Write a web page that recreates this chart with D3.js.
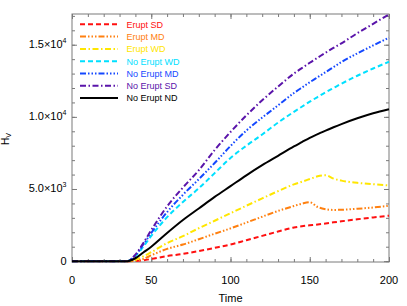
<!DOCTYPE html>
<html>
<head>
<meta charset="utf-8">
<script src="https://cdn.jsdelivr.net/npm/d3@7"></script>
<style>
  body { margin: 0; background: #fff; }
  svg { display: block; font-family: "Liberation Sans", Arial, sans-serif; }
</style>
</head>
<body>
<div id="chart"></div>
<script>
// chart size
var svgWidth = 407;
var svgHeight = 306;

// plot box (pixel edges)
var margin = { top: 14, right: 18, bottom: 44, left: 72 };
var width = svgWidth - margin.left - margin.right;
var height = svgHeight - margin.top - margin.bottom;

// data
var times = [0, 10, 20, 30, 35, 40, 45, 50, 60, 70, 80, 90, 100, 110, 120, 130, 140, 145, 150, 155, 160, 165, 170, 180, 190, 200];

var eruptSD   = [0, 0, 0, 0, 0, 10, 60, 150, 350, 500, 700, 920, 1150, 1450, 1750, 2050, 2330, 2420, 2480, 2540, 2610, 2690, 2760, 2900, 3030, 3150];
var eruptMD   = [0, 0, 0, 0, 0, 40, 150, 400, 850, 1150, 1520, 1900, 2270, 2670, 3080, 3480, 3820, 3980, 4080, 3750, 3600, 3550, 3560, 3630, 3720, 3840];
var eruptWD   = [0, 0, 0, 0, 0, 100, 330, 620, 1250, 1730, 2280, 2800, 3320, 3840, 4350, 4850, 5320, 5500, 5690, 5880, 5950, 5720, 5580, 5430, 5330, 5250];
var noEruptWD = [0, 0, 0, 0, 0, 350, 1000, 1750, 3050, 4100, 5050, 6100, 7150, 8000, 8780, 9600, 10350, 10700, 11050, 11380, 11700, 12000, 12300, 12850, 13350, 13820];
var noEruptMD = [0, 0, 0, 0, 0, 400, 1150, 1950, 3400, 4600, 5680, 6800, 7980, 9050, 9950, 10800, 11650, 12030, 12400, 12750, 13100, 13450, 13800, 14400, 14950, 15490];
var noEruptSD = [0, 0, 0, 0, 0, 450, 1250, 2150, 3800, 5100, 6300, 7700, 8950, 10100, 11150, 12100, 13000, 13380, 13750, 14100, 14450, 14780, 15100, 15800, 16450, 17100];
var noEruptND = [0, 0, 0, 0, 0, 200, 600, 1000, 1950, 2850, 3650, 4450, 5200, 5950, 6650, 7300, 7950, 8250, 8550, 8800, 9050, 9280, 9500, 9900, 10250, 10530];

var seriesNames = ["Erupt SD", "Erupt MD", "Erupt WD", "No Erupt WD", "No Erupt MD", "No Erupt SD", "No Erupt ND"];
var seriesValues = [eruptSD, eruptMD, eruptWD, noEruptWD, noEruptMD, noEruptSD, noEruptND];
var seriesColors = ["#ff1010", "#ff8010", "#ffe600", "#00e0ff", "#1448ff", "#5a14aa", "#000000"];
var seriesDashes = ["5,3", "6,2,1.5,2,1.5,2,1.5,2", "6,2.5,1.5,2.5", "5,3", "6,2,1.5,2,1.5,2,1.5,2", "6,2.5,1.5,2.5", null];

var xMajorTicks = [0, 50, 100, 150, 200];
var yMajorTicks = [0, 5000, 10000, 15000];

var svg = d3.select("#chart")
  .append("svg")
  .attr("width", svgWidth)
  .attr("height", svgHeight);

var chartGroup = svg.append("g")
  .attr("transform", `translate(${margin.left}, ${margin.top})`);

var x = d3.scaleLinear().domain([0, 200]).range([0, width]);
var y = d3.scaleLinear().domain([-60, 17130]).range([height, 0]);

var axisColor = "#7a7a7a";
var xMinor = d3.range(0, 201, 10);
var yMinor = d3.range(0, 17001, 1000);

// inward ticks on all four sides
function styleAxis(g) {
  g.select(".domain").remove();
  g.selectAll(".tick line").attr("stroke", axisColor);
}
chartGroup.append("g").attr("transform", `translate(0,${height})`)
  .call(d3.axisBottom(x).tickValues(xMinor).tickSize(-3).tickFormat("")).call(styleAxis);
chartGroup.append("g").attr("transform", `translate(0,${height})`)
  .call(d3.axisBottom(x).tickValues(xMajorTicks).tickSize(-5).tickFormat("")).call(styleAxis);
chartGroup.append("g")
  .call(d3.axisTop(x).tickValues(xMinor).tickSize(-3).tickFormat("")).call(styleAxis);
chartGroup.append("g")
  .call(d3.axisTop(x).tickValues(xMajorTicks).tickSize(-5).tickFormat("")).call(styleAxis);
chartGroup.append("g")
  .call(d3.axisLeft(y).tickValues(yMinor).tickSize(-3).tickFormat("")).call(styleAxis);
chartGroup.append("g")
  .call(d3.axisLeft(y).tickValues(yMajorTicks).tickSize(-5).tickFormat("")).call(styleAxis);
chartGroup.append("g").attr("transform", `translate(${width},0)`)
  .call(d3.axisRight(y).tickValues(yMinor).tickSize(-3).tickFormat("")).call(styleAxis);
chartGroup.append("g").attr("transform", `translate(${width},0)`)
  .call(d3.axisRight(y).tickValues(yMajorTicks).tickSize(-5).tickFormat("")).call(styleAxis);

chartGroup.append("rect")
  .attr("width", width)
  .attr("height", height)
  .attr("fill", "none")
  .attr("stroke", axisColor)
  .attr("stroke-width", 1);

// x tick labels
chartGroup.selectAll(".xlab")
  .data(xMajorTicks)
  .enter()
  .append("text")
  .attr("x", d => x(d))
  .attr("y", height + 21.5)
  .attr("text-anchor", "middle")
  .attr("font-size", 11)
  .text(d => d);

// y tick labels, as mantissa x 10^exp
var yLabels = chartGroup.selectAll(".ylab")
  .data(yMajorTicks)
  .enter()
  .append("text")
  .attr("x", -5.5)
  .attr("y", d => y(d) + 3.5)
  .attr("text-anchor", "end")
  .attr("font-size", 11);
yLabels.each(function(d) {
  var t = d3.select(this);
  if (d === 0) { t.text("0"); return; }
  var e = Math.floor(Math.log10(d));
  t.append("tspan").text((d / Math.pow(10, e)).toFixed(1) + "\u00d710");
  t.append("tspan").attr("font-size", 7).attr("dy", -5).text(e);
});

// lines
var line = d3.line()
  .x((d, i) => x(times[i]))
  .y(d => y(d))
  .curve(d3.curveMonotoneX);

seriesValues.forEach(function(vals, k) {
  chartGroup.append("path")
    .datum(vals)
    .attr("d", line)
    .attr("fill", "none")
    .attr("stroke", seriesColors[k])
    .attr("stroke-width", 2)
    .attr("stroke-dasharray", seriesDashes[k]);
});

// legend
var legend = svg.append("g");
seriesNames.forEach(function(name, k) {
  var ly = 24.3 + k * 12.3;
  legend.append("line")
    .attr("x1", 80).attr("x2", 118)
    .attr("y1", ly).attr("y2", ly)
    .attr("stroke", seriesColors[k])
    .attr("stroke-width", 2)
    .attr("stroke-dasharray", seriesDashes[k]);
  legend.append("text")
    .attr("x", 126.5)
    .attr("y", ly + 3.3)
    .attr("font-size", 9)
    .attr("fill", seriesColors[k])
    .text(name);
});

// axis titles
svg.append("text")
  .attr("x", margin.left + width / 2)
  .attr("y", 302)
  .attr("text-anchor", "middle")
  .attr("font-size", 11)
  .text("Time");
var yTitle = svg.append("text")
  .attr("transform", "translate(8.5, 139) rotate(-90)")
  .attr("text-anchor", "middle")
  .attr("font-size", 10);
yTitle.append("tspan").text("H");
yTitle.append("tspan").attr("font-size", 7).attr("dy", 2.5).text("V");
</script>
</body>
</html>
